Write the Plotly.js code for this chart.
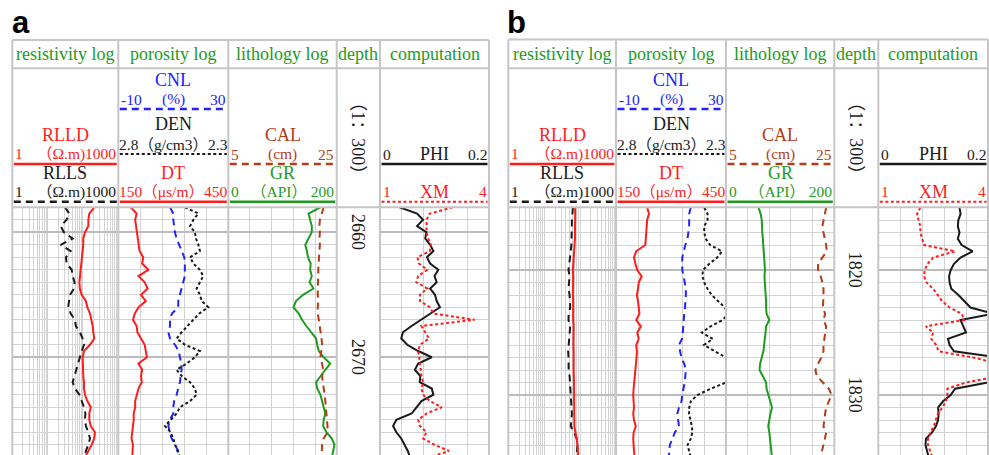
<!DOCTYPE html>
<html><head><meta charset="utf-8">
<script src="https://cdn.plot.ly/plotly-3.0.1.min.js"></script>
<style>html,body{margin:0;padding:0;background:#fff;overflow:hidden}#chart{width:989px;height:455px}</style>
</head><body><div id="chart"></div>
<script>
// ---------------- data ----------------
const depthA = [2658,2658.5,2659,2659.5,2660,2660.5,2661,2661.5,2662,2662.5,2663,2663.5,2664,2664.5,2665,2665.5,2666,2666.5,2667,2667.5,2668,2668.5,2669,2669.5,2670,2670.5,2671,2671.5,2672,2672.5,2673,2673.5,2674,2674.5,2675,2675.5,2676,2676.5,2677,2677.5,2678];
const rlldA = [209,151,142,142,114,102,102,98,92,88,87,82,79,82,92,121,133,158,176,189,196,209,158,107,98,98,98,102,107,107,114,133,166,151,151,166,218,209,176,142,114];
const rllsA = [31,41,34.5,23.4,29,51,23.4,45,33,34.5,48,51,58,56,43,41,38,45,59,63,82,98,107,92,82,74,66,56,51,59,79,92,107,117,114,121,142,158,142,121,114];
const cnlA = [8.8,10,10,10.3,10.6,11.2,12.2,13,14,14.2,14.2,14.2,13.6,13,12.4,11.8,11.8,9.5,8.8,8.8,8.2,8.8,10.6,12,12.4,13,13,12.8,12.4,11.8,11.2,10.3,10,10,8.8,8.2,8.8,9.4,10.6,11.8,12];
const denA = [2.497,2.436,2.459,2.474,2.452,2.447,2.436,2.429,2.474,2.459,2.429,2.414,2.429,2.444,2.429,2.421,2.391,2.432,2.459,2.486,2.512,2.535,2.497,2.429,2.452,2.489,2.535,2.512,2.474,2.452,2.444,2.474,2.520,2.535,2.562,2.588,2.562,2.550,2.542,2.532,2.520];
const dtA = [184,200,196,198,200,202,205,208,218,215,232,205,222,230,212,225,205,195,190,200,202,212,222,225,228,205,215,212,214,205,200,196,196,192,192,190,188,186,190,188,188];
const calA = [22.6,22.2,21.9,21.8,21.9,21.8,21.9,21.8,21.7,21.7,21.6,21.6,21.5,21.5,21.5,21.6,21.5,21.5,21.7,21.9,22.0,22.2,22.3,22.1,22.0,22.3,22.5,22.3,22.4,22.6,22.8,22.9,23.0,23.2,23.2,23.3,23.3,22.6,22.3,22.2,22.2];
const grA = [170,148,151,154,154,148,142,145,147,152,151,154,150,157,138,125,120,130,136,144,153,162,164,167,176,188,179,170,162,164,170,173,176,179,176,175,181,191,196,193,191];
const phiA = [0.036,0.068,0.079,0.068,0.085,0.083,0.092,0.098,0.086,0.092,0.107,0.100,0.104,0.092,0.101,0.104,0.110,0.092,0.076,0.058,0.042,0.039,0.050,0.070,0.095,0.070,0.064,0.074,0.073,0.095,0.098,0.076,0.067,0.058,0.030,0.024,0.030,0.039,0.045,0.051,0.055];
const xmA = [3.0,2.37,2.28,2.28,2.28,2.33,2.40,2.37,2.03,2.07,2.30,2.05,2.00,2.30,2.10,2.10,2.37,2.47,3.6,2.14,2.25,2.35,2.10,2.05,2.08,2.10,2.12,2.14,2.19,2.14,2.19,2.37,2.70,2.28,2.05,2.10,2.28,2.19,2.50,2.9,2.37];

const depthB = [1815,1815.5,1816,1816.5,1817,1817.5,1818,1818.5,1819,1819.5,1820,1820.5,1821,1821.5,1822,1822.5,1823,1823.5,1824,1824.5,1825,1825.5,1826,1826.5,1827,1827.5,1828,1828.5,1829,1829.5,1830,1830.5,1831,1831.5,1832,1832.5,1833,1833.5,1834,1834.5,1835];
const rlldB = [73,74,73,72,73,72,70,68,66,64,63,64,63,62,63,64,63,65,64,66,65,64,65,66,65,66,66,67,66,68,68,69,69,68,69,69,76,80,84,88,90];
const rllsB = [63,60,59,59,59,59,57,55,53,50,47.5,51,50,47.5,51,53,53,48,47.5,53,51,50,47.5,46.5,47.5,47.5,48,51,52,53,54,55,57,59,57,55,68,81,85,81,78];
const cnlB = [17.2,16.6,16.6,16.6,16.3,16.0,15.2,14.6,14.1,14.1,14.1,14.6,15.0,15.4,15.4,15.3,15.1,14.8,14.7,14.5,14.3,14.0,12.9,13.3,13.8,14.8,15.4,15.2,15.0,14.5,14.2,13.8,12.9,12.3,12.6,12.9,11.4,10.4,9.6,9.3,9.3];
const denB = [2.399,2.384,2.384,2.399,2.399,2.392,2.372,2.318,2.340,2.376,2.405,2.407,2.399,2.384,2.365,2.335,2.305,2.29,2.315,2.37,2.41,2.36,2.40,2.35,2.30,2.27,2.26,2.27,2.30,2.37,2.43,2.46,2.467,2.468,2.462,2.455,2.453,2.46,2.475,2.468,2.46];
const dtB = [235,240,235,234,232,231,230,205,199,203,208,220,212,210,207,210,212,214,205,218,208,212,205,207,206,204,203,201,199,198,197,199,199,197,199,204,198,197,197,199,201];
const calB = [23.5,23.3,23.0,22.8,23.0,23.3,23.5,23.6,22.8,22.0,22.0,22.5,22.8,23.0,23.0,22.9,22.9,23.3,23.0,23.5,23.3,23.2,23.0,23.0,22.6,22.0,21.5,21.8,22.9,24.0,24.5,24.0,23.5,23.3,23.2,23.0,23.5,23.3,23.0,22.7,22.4];
const grB = [60,64,66,66,67,68,69,70,71,72,72,71,72,73,73,74,74,75,80,74,73,72,71,69,66,63,62,68,74,75,78,81,85,82,80,78,80,81,82,84,85];
const phiB = [0.148,0.150,0.146,0.145,0.148,0.145,0.152,0.172,0.150,0.138,0.132,0.129,0.130,0.133,0.146,0.157,0.168,0.21,0.15,0.155,0.16,0.127,0.130,0.138,0.22,0.25,0.25,0.24,0.20,0.140,0.132,0.118,0.109,0.110,0.109,0.105,0.098,0.087,0.086,0.089,0.092];
const xmB = [2.15,2.06,2.10,2.15,2.15,2.20,2.25,3.1,2.50,2.35,2.27,2.25,2.32,2.50,2.62,2.75,2.95,3.28,3.35,2.30,2.50,2.45,2.58,2.65,3.6,4.3,4.4,4.3,3.4,2.89,2.89,2.85,2.75,2.63,2.57,2.52,2.42,2.36,2.36,2.42,2.48];

const depthTicksA = [2660, 2670];
const depthTicksB = [1820, 1830];
const trackTitles = ['resistivity log', 'porosity log', 'lithology log', 'depth', 'computation'];
const panelLabels = ['a', 'b'];
const scaleText = '（1：300）';

// ---------------- layout helpers ----------------
const W = 989, H = 455;
const X = px => px / W;
const Y = py => 1 - py / H;
const SERIF = 'Liberation Serif, Noto Sans CJK SC, serif';
const COL = {red:'#ff1c1c', black:'#1a1a1a', blue:'#2222ff', green:'#1f9c1f', brown:'#b43c16',
             title:'#239b23', grid:'#d3d3d3', major:'#bcbcbc', border:'#c6c6c6'};
const DASH = '7px,5px', DOT = '3px,2.5px';

const panels = [
  {cols:[12.3,118.3,228.3,336.7,380,489], top:40, depth:depthA, y:'y', yax:'yaxis',
   range:[2677.82, 2658.0], ticks:depthTicksA,
   d:{rlld:rlldA, rlls:rllsA, cnl:cnlA, den:denA, dt:dtA, cal:calA, gr:grA, phi:phiA, xm:xmA}},
  {cols:[508.3,616,726,834.3,878.3,988], top:39.5, depth:depthB, y:'y2', yax:'yaxis2',
   range:[1834.8, 1814.98], ticks:depthTicksB,
   d:{rlld:rlldB, rlls:rllsB, cnl:cnlB, den:denB, dt:dtB, cal:calB, gr:grB, phi:phiB, xm:xmB}}
];

const HDR_BOT = 207.3;
const layout = {
  width: W, height: H, margin:{l:0,r:0,t:0,b:0},
  paper_bgcolor:'#fff', plot_bgcolor:'#fff', showlegend:false,
  shapes:[], annotations:[]
};
const traces = [];
const xr = n => n === 1 ? 'x' : 'x' + n;
const xa = n => n === 1 ? 'xaxis' : 'xaxis' + n;

function ann(text, px, py, o) {
  layout.annotations.push(Object.assign({
    text: text, x: X(px), y: Y(py), xref:'paper', yref:'paper', showarrow:false,
    xanchor:'center', yanchor:'middle', borderpad:0,
    font:{family:SERIF, size:18, color:COL.black}
  }, o || {}));
}
function hline(x0, x1, py, color, width, dash) {
  layout.shapes.push({type:'line', xref:'paper', yref:'paper', x0:X(x0), x1:X(x1), y0:Y(py), y1:Y(py),
    line:{color:color, width:width, dash:dash || 'solid'}});
}
function vline(px, y0, y1, color, width) {
  layout.shapes.push({type:'line', xref:'paper', yref:'paper', x0:X(px), x1:X(px), y0:Y(y0), y1:Y(y1),
    line:{color:color, width:width}});
}

panels.forEach((P, p) => {
  const b = p * 8;
  const c = P.cols;
  const yref = P.y;
  const mainAxis = {showticklabels:false, ticks:'', zeroline:false, showline:false,
                    showgrid:true, gridcolor:COL.grid, gridwidth:1, anchor:yref, fixedrange:true};
  const ovAxis = {showticklabels:false, ticks:'', zeroline:false, showline:false, showgrid:false, anchor:yref, fixedrange:true};
  layout[xa(b+1)] = Object.assign({}, mainAxis, {domain:[X(c[0]),X(c[1])], type:'log', range:[0,3], dtick:'D1'});
  layout[xa(b+2)] = Object.assign({}, mainAxis, {domain:[X(c[1]),X(c[2])], range:[150,450], tick0:150, dtick:60});
  layout[xa(b+3)] = Object.assign({}, mainAxis, {domain:[X(c[2]),X(c[3])], range:[0,200], tick0:0, dtick:40});
  layout[xa(b+4)] = Object.assign({}, mainAxis, {domain:[X(c[4]),X(c[5])], range:[0,0.2], tick0:0, dtick:0.04});
  layout[xa(b+5)] = Object.assign({}, ovAxis, {overlaying:xr(b+2), range:[-10,30]});
  layout[xa(b+6)] = Object.assign({}, ovAxis, {overlaying:xr(b+2), range:[2.8,2.3]});
  layout[xa(b+7)] = Object.assign({}, ovAxis, {overlaying:xr(b+3), range:[5,25]});
  layout[xa(b+8)] = Object.assign({}, ovAxis, {overlaying:xr(b+4), range:[1,4]});
  layout[P.yax] = {domain:[0, Y(HDR_BOT)], range:P.range, anchor:xr(b+1), showticklabels:false, ticks:'',
    zeroline:false, showline:false, showgrid:true, tick0:0, dtick:10, gridcolor:COL.major, gridwidth:2, fixedrange:true,
    minor:{tick0:0, dtick:1, showgrid:true, gridcolor:COL.grid, gridwidth:1, ticks:''}};

  const D = P.d, dep = P.depth;
  const tr = (x, ax, color, dash) => traces.push({type:'scatter', mode:'lines', x:x, y:dep,
    xaxis:xr(ax), yaxis:yref, hoverinfo:'skip', line:{color:color, width:2, dash:dash || 'solid'}});
  tr(D.rlls, b+1, COL.black, DASH);
  tr(D.rlld, b+1, COL.red);
  tr(D.dt,   b+2, COL.red);
  tr(D.cnl,  b+5, COL.blue, DASH);
  tr(D.den,  b+6, COL.black, DOT);
  tr(D.gr,   b+3, COL.green);
  tr(D.cal,  b+7, COL.brown, DASH);
  tr(D.xm,   b+8, COL.red, DOT);
  tr(D.phi,  b+4, COL.black);

  // table borders
  [P.top, 68.3, HDR_BOT].forEach(py => hline(c[0], c[5], py, COL.border, 2));
  c.forEach(px => vline(px, P.top, H + 2, COL.border, 2));

  // titles
  for (let i = 0; i < 5; i++) ann(trackTitles[i], (c[i]+c[i+1])/2, 54, {font:{family:SERIF, size:18, color:COL.title}});

  // panel letter
  ann(panelLabels[p], c[0] + 8.5, 22.5, {font:{family:'Liberation Sans, Arial, sans-serif', size:31, color:'#000', weight:'bold'}});

  // legend block
  const L = [c[0],c[1]], Pq=[c[1],c[2]], Li=[c[2],c[3]], Cm=[c[4],c[5]];
  const mid = k => (k[0]+k[1])/2;
  const fs = color => ({family:SERIF, size:15.5, color:color});
  const left = (k, py, t, color) => ann(t, k[0]+2, py, {xanchor:'left', font:fs(color)});
  const right = (k, py, t, color) => ann(t, k[1]-1.5, py, {xanchor:'right', font:fs(color)});
  const center = (k, py, t, color, dx) => ann(t, mid(k) + (dx || 0), py, {font:fs(color)});
  const name = (k, py, t, color) => ann(t, mid(k), py, {font:{family:SERIF, size:18, color:color}});
  const leg = (k, py, color, w, dash) => hline(k[0]+1.5, k[1]-1.5, py, color, w, dash);

  name(L, 135, 'RLLD', COL.red);
  left(L, 153.5, '1', COL.red); right(L, 153.5, '（Ω.m)1000', COL.red);
  leg(L, 164, COL.red, 2.5);
  name(L, 173, 'RLLS', COL.black);
  left(L, 191.5, '1', COL.black); right(L, 191.5, '（Ω.m)1000', COL.black);
  leg(L, 201.7, COL.black, 2.5, DASH);

  name(Pq, 80, 'CNL', COL.blue);
  left(Pq, 99, '-10', COL.blue); center(Pq, 99, '(%)', COL.blue); right(Pq, 99, '30', COL.blue);
  leg(Pq, 109, COL.blue, 2.5, DASH);
  name(Pq, 124, 'DEN', COL.black);
  center(Pq, 144, '2.8（g/cm3）2.3', COL.black);
  leg(Pq, 154, COL.black, 2, DOT);
  name(Pq, 173, 'DT', COL.red);
  center(Pq, 191.5, '150（μs/m）450', COL.red);
  leg(Pq, 201.7, COL.red, 2.5);

  name(Li, 135, 'CAL', COL.brown);
  left(Li, 154, '5', COL.brown); center(Li, 154, '(cm)', COL.brown); right(Li, 154, '25', COL.brown);
  leg(Li, 164, COL.brown, 2.5, DASH);
  name(Li, 173, 'GR', COL.green);
  left(Li, 191.5, '0', COL.green); right(Li, 191.5, '（API） 200', COL.green);
  leg(Li, 201.7, COL.green, 2.5);

  left(Cm, 154, '0', COL.black); name(Cm, 154, 'PHI', COL.black); right(Cm, 154, '0.2', COL.black);
  leg(Cm, 164, COL.black, 2.5);
  left(Cm, 191.5, '1', COL.red); name(Cm, 191.5, 'XM', COL.red); right(Cm, 191.5, '4', COL.red);
  leg(Cm, 201.7, COL.red, 2, DOT);

  // depth column
  const dmid = (c[3]+c[4])/2;
  ann(scaleText, dmid, 138.5, {textangle:90, font:{family:SERIF, size:18, color:COL.black}});
  P.ticks.forEach(t => layout.annotations.push({text:String(t), x:X(dmid - 1), y:t, xref:'paper', yref:yref,
    showarrow:false, textangle:90, xanchor:'center', yanchor:'middle', font:{family:SERIF, size:18, color:COL.black}}));
});

Plotly.newPlot('chart', traces, layout, {staticPlot:true, displayModeBar:false});
</script>
</body></html>
